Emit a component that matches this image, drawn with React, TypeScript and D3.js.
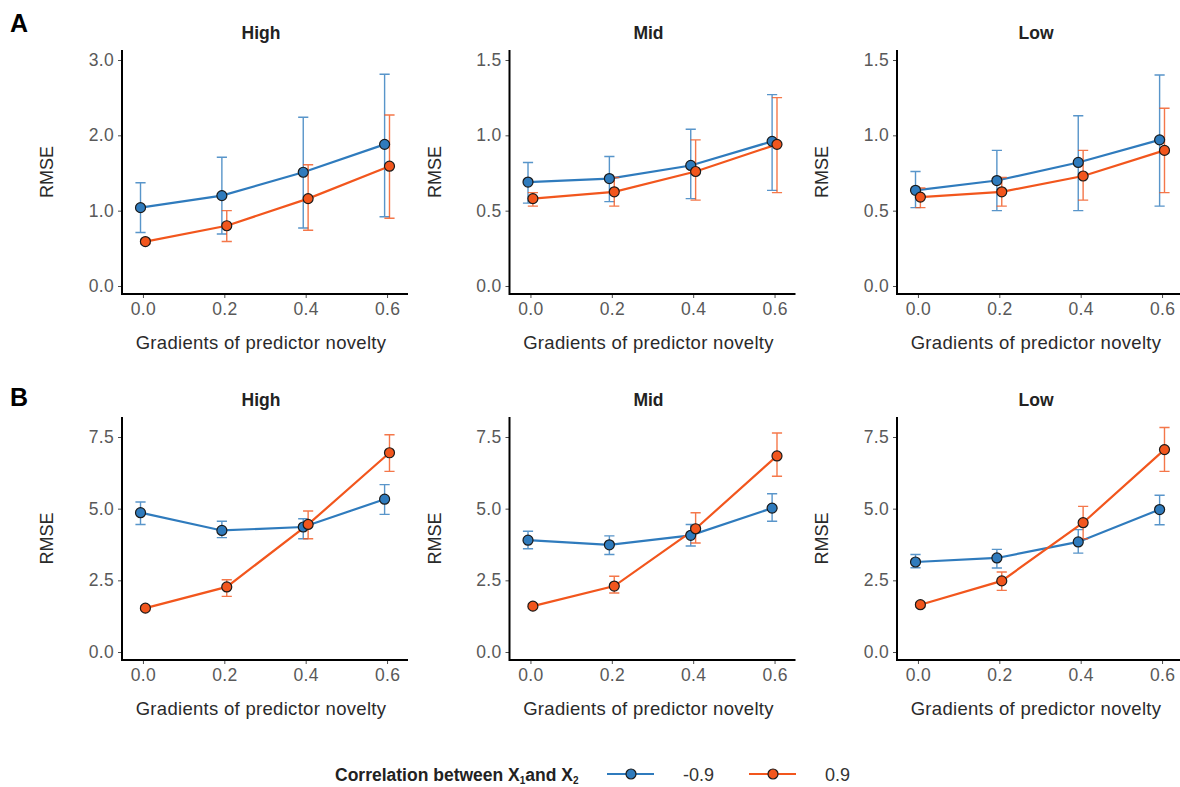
import React, { useEffect, useRef } from 'react'
import * as d3 from 'd3'

// x positions of the four novelty gradients
const gradients = [0, 0.2, 0.4, 0.6]
const xTicks = ['0.0', '0.2', '0.4', '0.6']
const facets = ['High', 'Mid', 'Low']

// each entry: [mean, lower, upper]
const aHighNeg = [[1.04, 0.71, 1.37], [1.2, 0.69, 1.71], [1.51, 0.77, 2.24], [1.88, 0.92, 2.81]]
const aHighPos = [[0.59, 0.56, 0.62], [0.8, 0.59, 1.0], [1.16, 0.74, 1.61], [1.59, 0.9, 2.27]]
const aMidNeg = [[0.69, 0.55, 0.82], [0.713, 0.56, 0.86], [0.8, 0.58, 1.04], [0.96, 0.635, 1.27]]
const aMidPos = [[0.58, 0.53, 0.62], [0.625, 0.53, 0.72], [0.76, 0.57, 0.97], [0.94, 0.62, 1.25]]
const aLowNeg = [[0.635, 0.52, 0.76], [0.7, 0.5, 0.9], [0.82, 0.5, 1.13], [0.97, 0.53, 1.4]]
const aLowPos = [[0.59, 0.52, 0.65], [0.625, 0.53, 0.72], [0.73, 0.57, 0.9], [0.9, 0.62, 1.18]]

const bHighNeg = [[4.86, 4.45, 5.23], [4.24, 3.99, 4.56], [4.36, 3.95, 4.65], [5.33, 4.8, 5.84]]
const bHighPos = [[1.53, 1.45, 1.61], [2.27, 1.94, 2.52], [4.45, 3.95, 4.92], [6.95, 6.3, 7.58]]
const bMidNeg = [[3.9, 3.6, 4.21], [3.74, 3.4, 4.05], [4.07, 3.7, 4.45], [5.02, 4.56, 5.52]]
const bMidPos = [[1.6, 1.52, 1.68], [2.3, 2.06, 2.64], [4.3, 3.8, 4.86], [6.84, 6.13, 7.64]]
const bLowNeg = [[3.14, 2.94, 3.4], [3.28, 2.93, 3.58], [3.84, 3.45, 4.27], [4.97, 4.44, 5.47]]
const bLowPos = [[1.65, 1.57, 1.73], [2.48, 2.15, 2.79], [4.51, 3.95, 5.08], [7.06, 6.3, 7.83]]

const aYTicks = [[0, 1, 2, 3], [0, 0.5, 1, 1.5], [0, 0.5, 1, 1.5]]
const bYTicks = [[0, 2.5, 5, 7.5], [0, 2.5, 5, 7.5], [0, 2.5, 5, 7.5]]

const seriesNames = ['-0.9', '0.9']
const colors = ['#2f7bbd', '#f2561d']

const W = 1180
const H = 787
const font = 'Liberation Sans, Arial, sans-serif'

export default function App() {
  const ref = useRef<SVGSVGElement>(null)

  useEffect(() => {
    const svg = d3.select(ref.current)
    svg.selectAll('*').remove()

    const rows = [
      { label: 'A', top: 50, bottom: 294, zeroY: 286, topTickY: 60, ticks: aYTicks, data: [[aHighNeg, aHighPos], [aMidNeg, aMidPos], [aLowNeg, aLowPos]] },
      { label: 'B', top: 417, bottom: 660, zeroY: 652, topTickY: 437, ticks: bYTicks, data: [[bHighNeg, bHighPos], [bMidNeg, bMidPos], [bLowNeg, bLowPos]] },
    ]
    const panelLeft = [122, 509.5, 897]
    const panelW = 286
    const dodge = 0.006
    const cap = 0.0125

    rows.forEach((row, ri) => {
      svg.append('text')
        .attr('x', 10).attr('y', ri === 0 ? 32 : 406)
        .attr('font-family', font).attr('font-size', 25).attr('font-weight', 'bold')
        .text(row.label)

      facets.forEach((facet, fi) => {
        const x0 = panelLeft[fi]
        const x = d3.scaleLinear().domain([-0.0515, 0.6515]).range([x0, x0 + panelW])
        const ticks = row.ticks[fi]
        const y = d3.scaleLinear().domain([0, ticks[ticks.length - 1]]).range([row.zeroY, row.topTickY])
        const g = svg.append('g')

        // y axis
        const yAxis = g.append('g').attr('transform', `translate(${x0},0)`)
          .call(d3.axisLeft(y).tickValues(ticks).tickSize(4).tickPadding(4).tickFormat(d3.format('.1f')))
        yAxis.select('.domain').remove()
        yAxis.selectAll('line').attr('stroke', '#4d4d4d')
        yAxis.selectAll('text').attr('font-family', font).attr('font-size', 17.5)
          .attr('letter-spacing', 0.3).attr('fill', '#595959')

        // x axis
        const xAxis = g.append('g').attr('transform', `translate(0,${row.bottom})`)
          .call(d3.axisBottom(x).tickValues(gradients).tickSize(4).tickPadding(5).tickFormat((d, i) => xTicks[i]))
        xAxis.select('.domain').remove()
        xAxis.selectAll('line').attr('stroke', '#4d4d4d')
        xAxis.selectAll('text').attr('font-family', font).attr('font-size', 17.5)
          .attr('letter-spacing', 0.3).attr('fill', '#595959')

        g.append('path')
          .attr('d', `M${x0},${row.top}V${row.bottom}H${x0 + panelW}`)
          .attr('fill', 'none').attr('stroke', '#000').attr('stroke-width', 2)

        // titles
        g.append('text')
          .attr('x', x0 + panelW / 2 - 4).attr('y', row.top - 11)
          .attr('text-anchor', 'middle')
          .attr('font-family', font).attr('font-size', 17.5).attr('font-weight', 'bold')
          .attr('fill', '#222')
          .text(facet)
        g.append('text')
          .attr('x', x0 + panelW / 2 - 4).attr('y', row.bottom + 55)
          .attr('text-anchor', 'middle')
          .attr('font-family', font).attr('font-size', 18.5).attr('letter-spacing', 0.3)
          .attr('fill', '#2a2a2a')
          .text('Gradients of predictor novelty')
        g.append('text')
          .attr('transform', `translate(${x0 - 75},${(row.top + row.bottom) / 2}) rotate(-90)`)
          .attr('text-anchor', 'middle').attr('dy', '0.35em')
          .attr('font-family', font).attr('font-size', 18).attr('fill', '#2a2a2a')
          .text('RMSE')

        // series
        row.data[fi].forEach((series, si) => {
          const off = si === 0 ? -dodge : dodge
          const pts = series.map((d, i) => ({ gx: gradients[i] + off, m: d[0], lo: d[1], hi: d[2] }))
          const eb = g.append('g').attr('stroke', colors[si]).attr('stroke-width', 1.4).attr('opacity', 0.8)
          pts.forEach(p => {
            eb.append('path')
              .attr('fill', 'none')
              .attr('d', `M${x(p.gx - cap)},${y(p.hi)}H${x(p.gx + cap)}M${x(p.gx)},${y(p.hi)}V${y(p.lo)}M${x(p.gx - cap)},${y(p.lo)}H${x(p.gx + cap)}`)
          })
          const line = d3.line<any>().x(p => x(p.gx)).y(p => y(p.m))
          g.append('path').datum(pts).attr('d', line)
            .attr('fill', 'none').attr('stroke', colors[si]).attr('stroke-width', 2.2)
        })
        row.data[fi].forEach((series, si) => {
          const off = si === 0 ? -dodge : dodge
          g.selectAll(null).data(series).join('circle')
            .attr('cx', (d, i) => x(gradients[i] + off))
            .attr('cy', d => y(d[0]))
            .attr('r', 5)
            .attr('fill', colors[si]).attr('stroke', '#1a1a1a').attr('stroke-width', 1.2)
        })
      })
    })

    // legend
    const lg = svg.append('g').attr('font-family', font)
    const title = lg.append('text').attr('x', 335).attr('y', 781)
      .attr('font-size', 17.5).attr('font-weight', 'bold').attr('fill', '#222')
    title.append('tspan').text('Correlation between X')
    title.append('tspan').attr('font-size', 10).attr('dy', 3).text('1')
    title.append('tspan').attr('dy', -3).text('and X')
    title.append('tspan').attr('font-size', 10).attr('dy', 3).text('2')

    const legendX = [607, 749]
    seriesNames.forEach((name, i) => {
      const lx = legendX[i]
      lg.append('line').attr('x1', lx).attr('x2', lx + 47).attr('y1', 774).attr('y2', 774)
        .attr('stroke', colors[i]).attr('stroke-width', 2.2)
      lg.append('circle').attr('cx', lx + 24).attr('cy', 774).attr('r', 5)
        .attr('fill', colors[i]).attr('stroke', '#1a1a1a').attr('stroke-width', 1.2)
      lg.append('text').attr('x', lx + 76).attr('y', 781)
        .attr('font-size', 18).attr('fill', '#333').text(name)
    })
  }, [])

  return (
    <svg ref={ref} width={W} height={H} style={{ display: 'block', position: 'absolute', left: 0, top: 0, background: '#fff' }} />
  )
}
